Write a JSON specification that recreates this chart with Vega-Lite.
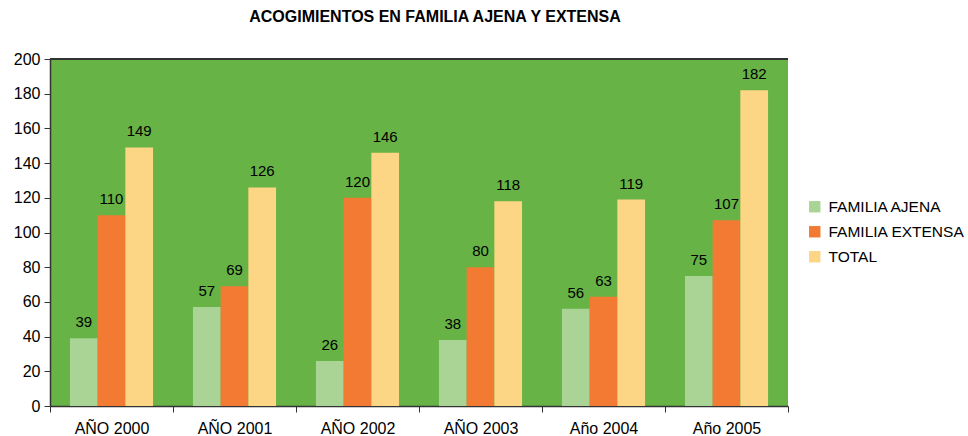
{
  "$schema": "https://vega.github.io/schema/vega-lite/v6.json",
  "width": 738,
  "height": 347,
  "autosize": {"type": "none"},
  "padding": {"left": 50, "top": 59, "right": 180, "bottom": 30},
  "title": {"text": "ACOGIMIENTOS EN FAMILIA AJENA Y EXTENSA", "font": "Liberation Sans", "fontSize": 16, "fontWeight": "bold", "color": "#000000", "dx": 16, "offset": 26},
  "view": {"fill": "#67b346", "stroke": null},
  "config": {"font": "Liberation Sans"},
  "data": {"values": [
    {"year": "AÑO 2000", "serie": "FAMILIA AJENA", "value": 39},
    {"year": "AÑO 2000", "serie": "FAMILIA EXTENSA", "value": 110},
    {"year": "AÑO 2000", "serie": "TOTAL", "value": 149},
    {"year": "AÑO 2001", "serie": "FAMILIA AJENA", "value": 57},
    {"year": "AÑO 2001", "serie": "FAMILIA EXTENSA", "value": 69},
    {"year": "AÑO 2001", "serie": "TOTAL", "value": 126},
    {"year": "AÑO 2002", "serie": "FAMILIA AJENA", "value": 26},
    {"year": "AÑO 2002", "serie": "FAMILIA EXTENSA", "value": 120},
    {"year": "AÑO 2002", "serie": "TOTAL", "value": 146},
    {"year": "AÑO 2003", "serie": "FAMILIA AJENA", "value": 38},
    {"year": "AÑO 2003", "serie": "FAMILIA EXTENSA", "value": 80},
    {"year": "AÑO 2003", "serie": "TOTAL", "value": 118},
    {"year": "Año 2004", "serie": "FAMILIA AJENA", "value": 56},
    {"year": "Año 2004", "serie": "FAMILIA EXTENSA", "value": 63},
    {"year": "Año 2004", "serie": "TOTAL", "value": 119},
    {"year": "Año 2005", "serie": "FAMILIA AJENA", "value": 75},
    {"year": "Año 2005", "serie": "FAMILIA EXTENSA", "value": 107},
    {"year": "Año 2005", "serie": "TOTAL", "value": 182}
  ]},
  "encoding": {
    "x": {"field": "year", "type": "nominal", "sort": null, "title": null,
      "scale": {"paddingInner": 0, "paddingOuter": 0},
      "axis": {"labelAngle": 0, "labelFontSize": 16, "labelColor": "#000000", "labelPadding": 8, "tickBand": "extent", "tickSize": 6, "tickColor": "#333333", "domainColor": "#333333", "domainWidth": 1.5}},
    "xOffset": {"field": "serie", "type": "nominal", "sort": ["FAMILIA AJENA", "FAMILIA EXTENSA", "TOTAL"], "scale": {"paddingInner": 0, "paddingOuter": 0.72}},
    "y": {"field": "value", "type": "quantitative", "title": null,
      "scale": {"domain": [0, 200], "nice": false},
      "axis": {"values": [0, 20, 40, 60, 80, 100, 120, 140, 160, 180, 200], "grid": false, "labelFontSize": 16, "labelColor": "#000000", "tickSize": 6, "tickColor": "#333333", "domainColor": "#333333", "domainWidth": 1.5, "labelPadding": 4}}
  },
  "layer": [
    {
      "mark": {"type": "bar"},
      "encoding": {
        "color": {"field": "serie", "type": "nominal", "sort": ["FAMILIA AJENA", "FAMILIA EXTENSA", "TOTAL"],
          "scale": {"domain": ["FAMILIA AJENA", "FAMILIA EXTENSA", "TOTAL"], "range": ["#a9d496", "#f27a33", "#fdd685"]},
          "legend": {"title": null, "orient": "none", "legendX": 757, "legendY": 140, "symbolType": "square", "symbolSize": 130, "symbolStrokeWidth": 0, "labelFontSize": 15.5, "labelColor": "#000000", "rowPadding": 8, "labelOffset": 6}}
      }
    },
    {
      "mark": {"type": "text", "baseline": "bottom", "dy": -8, "fontSize": 15, "color": "#000000"},
      "encoding": {"text": {"field": "value", "type": "quantitative"}}
    },
    {
      "mark": {"type": "rule", "color": "#333333", "strokeWidth": 1.5},
      "encoding": {"y": {"datum": 200}, "x": null, "xOffset": null}
    }
  ]
}
